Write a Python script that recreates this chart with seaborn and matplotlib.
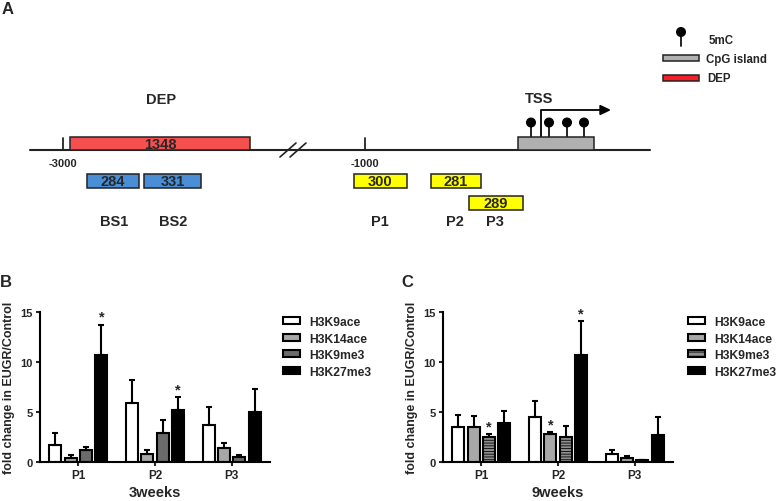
import numpy as np
import pandas as pd
import matplotlib
matplotlib.use("Agg")
import matplotlib.pyplot as plt
import seaborn as sns
from matplotlib.patches import Rectangle, Circle, Polygon

# ---------------- data ----------------
regions = ["P1", "P2", "P3"]
marks = ["H3K9ace", "H3K14ace", "H3K9me3", "H3K27me3"]

# 3 weeks: mean fold change and upper error
w3_H3K9ace = [1.65, 5.87, 3.70]
w3_H3K14ace = [0.40, 0.80, 1.34]
w3_H3K9me3 = [1.14, 2.92, 0.47]
w3_H3K27me3 = [10.70, 5.17, 4.97]
w3_err_H3K9ace = [1.27, 2.33, 1.77]
w3_err_H3K14ace = [0.24, 0.37, 0.54]
w3_err_H3K9me3 = [0.34, 1.27, 0.20]
w3_err_H3K27me3 = [3.06, 1.31, 2.28]
w3_stars = [("P1", "H3K27me3"), ("P2", "H3K27me3")]

# 9 weeks
w9_H3K9ace = [3.46, 4.50, 0.80]
w9_H3K14ace = [3.46, 2.75, 0.40]
w9_H3K9me3 = [2.52, 2.48, 0.17]
w9_H3K27me3 = [3.86, 10.70, 2.68]
w9_err_H3K9ace = [1.20, 1.57, 0.37]
w9_err_H3K14ace = [1.17, 0.25, 0.17]
w9_err_H3K9me3 = [0.27, 1.08, 0.00]
w9_err_H3K27me3 = [1.24, 3.40, 1.85]
w9_stars = [("P1", "H3K9me3"), ("P2", "H3K14ace"), ("P2", "H3K27me3")]

# panel A diagram content
dep_label = "1348"
bs_labels = ["284", "331"]
bs_names = ["BS1", "BS2"]
p_labels = ["300", "281", "289"]
p_names = ["P1", "P2", "P3"]
coord_labels = ["-3000", "-1000"]
n_5mC = 4

# ---------------- style ----------------
sns.set_theme(style="ticks")
plt.rcParams["font.family"] = ["Liberation Sans", "DejaVu Sans"]
plt.rcParams["font.weight"] = "bold"
plt.rcParams["hatch.linewidth"] = 0.6

bar_colors = ["#ffffff", "#a8a8a8", "#6b6b6b", "#000000"]

fig = plt.figure(figsize=(7.78, 5.02), dpi=100)

# ---------------- panel A (pixel coordinate canvas) ----------------
axA = fig.add_axes([0, 0, 1, 1])
axA.set_xlim(0, 778)
axA.set_ylim(502, 0)
axA.axis("off")
axA.patch.set_visible(False)

def box(ax, x0, x1, y0, y1, fc, text=None, fs=10.5):
    ax.add_patch(Rectangle((x0, y0), x1 - x0, y1 - y0, facecolor=fc,
                           edgecolor="#222222", linewidth=1.1, zorder=3))
    if text:
        ax.text((x0 + x1) / 2, (y0 + y1) / 2 + 0.5, text, ha="center", va="center",
                fontsize=fs, fontweight="bold", zorder=4)

axA.text(8, 10, "A", ha="center", va="center", fontsize=12, fontweight="bold")
# main line
axA.plot([30, 650], [151, 151], color="#222222", lw=1.5, zorder=2)
# ticks
for x, lab in zip([63, 365], coord_labels):
    axA.plot([x, x], [139, 151], color="#222222", lw=1.3, zorder=2)
    axA.text(x, 164, lab, ha="center", va="center", fontsize=8, fontweight="bold")
# break
for dx in (0, 10):
    axA.plot([280 + dx, 296 + dx], [158, 144], color="#222222", lw=1.2, zorder=2)
# DEP
box(axA, 70, 250, 138, 151, "#f5504f", dep_label)
axA.text(161, 100, "DEP", ha="center", va="center", fontsize=10.5, fontweight="bold")
# BS boxes
for (x0, x1), lab, nm in zip([(87, 139), (144, 201)], bs_labels, bs_names):
    box(axA, x0, x1, 175, 189, "#4a8fd6", lab)
    axA.text((x0 + x1) / 2 + 1, 222, nm, ha="center", va="center", fontsize=10.5, fontweight="bold")
# P boxes
for (x0, x1, y0), lab, nm in zip([(354, 407, 175), (431, 481, 175), (469, 523, 197)], p_labels, p_names):
    box(axA, x0, x1, y0, y0 + 14, "#ffff00", lab)
for xc, nm in zip([380, 455, 495], p_names):
    axA.text(xc, 222, nm, ha="center", va="center", fontsize=10.5, fontweight="bold")
# CpG island with 5mC lollipops
box(axA, 518, 594, 138, 151, "#b0b0b0")
for x in [531, 549, 567, 584][:n_5mC]:
    axA.plot([x, x], [124, 138], color="#111111", lw=1.3, zorder=2)
    axA.add_patch(Circle((x, 123.5), 4.3, color="#000000", zorder=4))
# TSS arrow
axA.plot([541, 541, 601], [138, 111, 111], color="#111111", lw=1.4, zorder=2)
axA.add_patch(Polygon([[600, 106.5], [609.5, 111], [600, 115.5]], closed=True, color="#000000", zorder=4))
axA.text(539, 99, "TSS", ha="center", va="center", fontsize=10.5, fontweight="bold")
# legend A
axA.plot([681, 681], [35, 47], color="#111111", lw=1.3)
axA.add_patch(Circle((681, 33), 4.3, color="#000000", zorder=4))
axA.text(709, 40.5, "5mC", ha="left", va="center", fontsize=8.3, fontweight="bold")
axA.add_patch(Rectangle((663, 56), 36, 6, facecolor="#b0b0b0", edgecolor="#222222", lw=1.1))
axA.text(706, 59.5, "CpG island", ha="left", va="center", fontsize=8.3, fontweight="bold")
axA.add_patch(Rectangle((663, 76), 36, 6, facecolor="#f5202a", edgecolor="#222222", lw=1.1))
axA.text(707, 79.5, "DEP", ha="left", va="center", fontsize=8.3, fontweight="bold")

axA.text(6, 283, "B", ha="center", va="center", fontsize=12, fontweight="bold")
axA.text(407, 283, "C", ha="center", va="center", fontsize=12, fontweight="bold")

# ---------------- panels B and C ----------------
W, H = 778.0, 502.0

def panel(left_px, values, errs, stars, xlabel, legend_x_px, hatched):
    ax = fig.add_axes([left_px / W, (H - 462.7) / H, 230 / W, 149.4 / H])
    df = pd.DataFrame({
        "region": np.tile(regions, len(marks)),
        "mark": np.repeat(marks, len(regions)),
        "value": np.concatenate(values),
    })
    sns.barplot(data=df, x="region", y="value", hue="mark", order=regions,
                hue_order=marks, palette=bar_colors, edgecolor="black",
                linewidth=1.5, width=0.8, gap=0.2, errorbar=None,
                saturation=1, ax=ax)
    for cont, err in zip(ax.containers, errs):
        xs = [b.get_x() + b.get_width() / 2 for b in cont]
        ys = [b.get_height() for b in cont]
        ax.errorbar(xs, ys, yerr=[np.zeros(len(err)), err], fmt="none",
                    ecolor="black", elinewidth=1.5, capsize=2, capthick=1.5,
                    zorder=1)
    if hatched:
        for b in ax.containers[2]:
            b.set_facecolor("#8e8e8e")
            b.set_hatch("------")
    for reg, mk in stars:
        i = regions.index(reg)
        j = marks.index(mk)
        b = ax.containers[j][i]
        top = values[j][i] + errs[j][i]
        ax.annotate("*", xy=(b.get_x() + b.get_width() / 2, top), xytext=(0, 0.5),
                    textcoords="offset points", ha="center", va="bottom",
                    fontsize=10.5, fontweight="bold")
    ax.set_ylim(0, 15)
    ax.set_xlim(-0.5, 2.5)
    ax.set_yticks([0, 5, 10, 15])
    ax.tick_params(axis="y", labelsize=8, length=3, width=1.5, pad=2)
    ax.tick_params(axis="x", labelsize=8.5, length=3, width=1.5, pad=2)
    for lab in ax.get_xticklabels() + ax.get_yticklabels():
        lab.set_fontweight("bold")
    for s in ["top", "right"]:
        ax.spines[s].set_visible(False)
    for s in ["left", "bottom"]:
        ax.spines[s].set_linewidth(1.5)
        ax.spines[s].set_color("black")
    ax.set_ylabel("fold change in EUGR/Control", fontsize=9, fontweight="bold", labelpad=4)
    ax.set_xlabel(xlabel, fontsize=10.5, fontweight="bold", labelpad=3)
    sns.move_legend(ax, "upper left", bbox_to_anchor=(legend_x_px / W, 1 - 317 / H),
                    bbox_transform=fig.transFigure, frameon=False, title=None,
                    fontsize=8.7, borderpad=0, borderaxespad=0,
                    handlelength=1.4, handleheight=0.5, handletextpad=0.8,
                    labelspacing=0.38)
    leg = ax.get_legend()
    for t in leg.get_texts():
        t.set_fontweight("bold")
    for h in leg.legend_handles:
        h.set_linewidth(1.5)
        h.set_edgecolor("black")
    if hatched:
        leg.legend_handles[2].set_facecolor("#8e8e8e")
        leg.legend_handles[2].set_hatch("----")
    return ax

panel(40, [w3_H3K9ace, w3_H3K14ace, w3_H3K9me3, w3_H3K27me3],
      [w3_err_H3K9ace, w3_err_H3K14ace, w3_err_H3K9me3, w3_err_H3K27me3],
      w3_stars, "3weeks", 283, False)
panel(443, [w9_H3K9ace, w9_H3K14ace, w9_H3K9me3, w9_H3K27me3],
      [w9_err_H3K9ace, w9_err_H3K14ace, w9_err_H3K9me3, w9_err_H3K27me3],
      w9_stars, "9weeks", 688, True)

fig.savefig("out.png", dpi=100)
